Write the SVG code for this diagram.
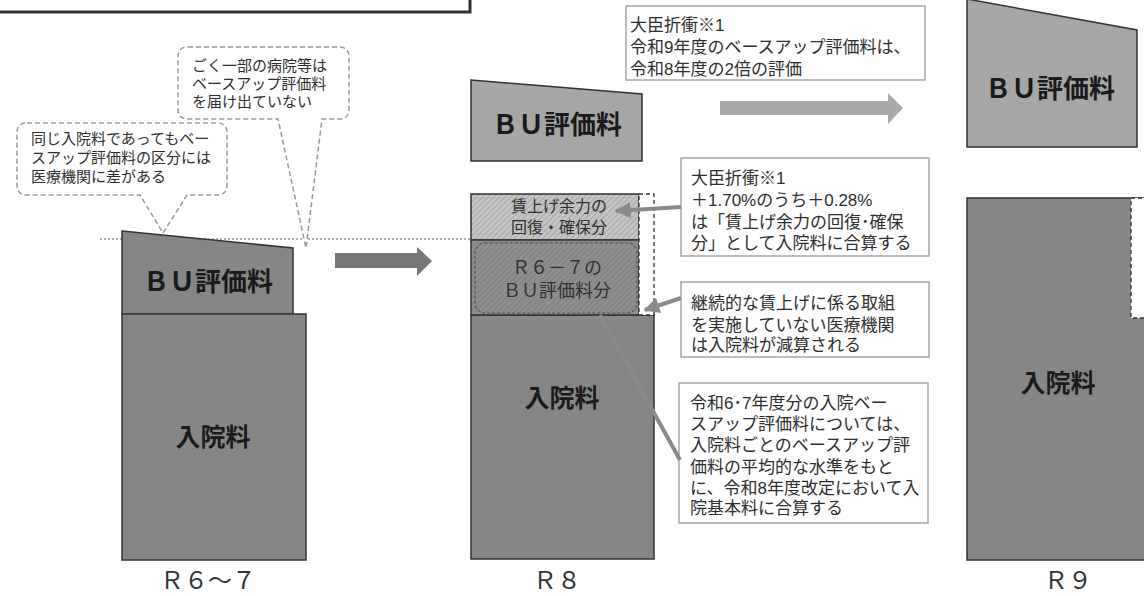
<svg xmlns="http://www.w3.org/2000/svg" width="1144" height="596" viewBox="0 0 1144 596">
<style>
.t{font-family:"Liberation Sans","Noto Sans CJK JP",sans-serif;fill:#2e2e2e}
.big{font-family:"Noto Sans CJK JP","Noto Sans",sans-serif;font-weight:bold;fill:#1a1a1a;text-anchor:middle}
.lbl{font-family:"Noto Sans CJK JP","Noto Sans",sans-serif;fill:#333;text-anchor:middle;font-size:24px}
.box{fill:#fff;stroke:#999;stroke-width:1.3}
.call{fill:#fff;stroke:#9a9a9a;stroke-width:1.5;stroke-dasharray:5 3}
.dark{fill:#868686;stroke:#333;stroke-width:1.5}
.light{fill:#a6a6a6;stroke:#333;stroke-width:1.5}
.conn{stroke:#8a8a8a;stroke-width:4;fill:none}
</style>
<defs>
<pattern id="hatchL" width="4" height="4" patternUnits="userSpaceOnUse" patternTransform="rotate(45)">
<rect width="4" height="4" fill="#c4c4c4"/><line x1="0" y1="0" x2="0" y2="4" stroke="#9a9a9a" stroke-width="1.4"/>
</pattern>
<pattern id="hatchD" width="4" height="4" patternUnits="userSpaceOnUse" patternTransform="rotate(45)">
<rect width="4" height="4" fill="#8e8e8e"/><line x1="0" y1="0" x2="0" y2="4" stroke="#7c7c7c" stroke-width="1.4"/>
</pattern>
<marker id="ah" viewBox="0 0 10 10" refX="9" refY="5" markerWidth="4" markerHeight="4" orient="auto" markerUnits="strokeWidth">
<path d="M0,0 L10,5 L0,10 Z" fill="#8a8a8a"/>
</marker>
</defs>
<rect width="1144" height="596" fill="#fff"/>

<g id="topbox"><rect x="-5" y="-20" width="475" height="32" fill="#fff" stroke="#333" stroke-width="3"/></g>

<g id="guide"><line x1="100" y1="239" x2="471" y2="239" stroke="#999" stroke-width="1.5" stroke-dasharray="2 2"/></g>

<g id="callout1">
<path class="call" d="M27 123 H217 Q227 123 227 133 V185 Q227 195 217 195 H187 L163 233 L140 195 H27 Q17 195 17 185 V133 Q17 123 27 123 Z"/>
<text class="t" font-size="15" x="31" y="144">同じ入院料であってもベー</text>
<text class="t" font-size="15" x="31" y="163">スアップ評価料の区分には</text>
<text class="t" font-size="15" x="31" y="182">医療機関に差がある</text>
</g>

<g id="callout2">
<path class="call" d="M188 47 H339 Q349 47 349 57 V109 Q349 119 339 119 H322 L306 248 L278 119 H188 Q178 119 178 109 V57 Q178 47 188 47 Z"/>
<text class="t" font-size="15" x="192" y="71">ごく一部の病院等は</text>
<text class="t" font-size="15" x="192" y="89">ベースアップ評価料</text>
<text class="t" font-size="15" x="192" y="107">を届け出ていない</text>
</g>

<g id="r67">
<polygon class="dark" points="122,231 293,248 293,314 122,314"/>
<text class="big" font-size="26" x="208" y="291">ＢＵ評価料</text>
<rect class="dark" x="122" y="314" width="184" height="246"/>
<text class="big" font-size="25" x="213" y="446">入院料</text>
<text class="lbl" x="208" y="589">Ｒ６～７</text>
</g>

<g id="arrow1"><polygon points="335,253 417,253 417,247 432,261 417,276 417,268 335,268" fill="#777"/></g>

<g id="r8">
<polygon class="light" points="471,80 642,94 642,161 471,161"/>
<text class="big" font-size="26" x="557" y="134">ＢＵ評価料</text>
<path class="dark" d="M471 315 H654 V559 H471 Z"/>
<rect x="471" y="194" width="168" height="46" fill="url(#hatchL)" stroke="#333" stroke-width="1.5"/>
<rect x="471" y="240" width="168" height="75" fill="url(#hatchD)" stroke="#333" stroke-width="1.5"/>
<rect x="639" y="194" width="15" height="121" fill="#fff" stroke="#333" stroke-width="1.3" stroke-dasharray="4 3"/>
<rect x="475" y="243" width="162" height="70" rx="10" fill="none" stroke="#555" stroke-width="1.2" stroke-dasharray="3 2"/>
<text class="t" font-size="16" text-anchor="middle" x="559" y="212">賃上げ余力の</text>
<text class="t" font-size="16" text-anchor="middle" x="559" y="233">回復・確保分</text>
<text class="t" font-size="18" text-anchor="middle" x="557" y="274">Ｒ６－７の</text>
<text class="t" font-size="18" text-anchor="middle" x="557" y="297">ＢＵ評価料分</text>
<text class="big" font-size="25" x="562" y="407">入院料</text>
<text class="lbl" x="557" y="589">Ｒ８</text>
</g>

<g id="arrow2"><polygon points="720,101 888,101 888,93 903,108 888,124 888,115 720,115" fill="#a9a9a9"/></g>

<g id="note1">
<rect class="box" x="626" y="6" width="299" height="74"/>
<text class="t" font-size="17" x="630" y="31">大臣折衝※1</text>
<text class="t" font-size="17" x="630" y="53">令和9年度のベースアップ評価料は、</text>
<text class="t" font-size="17" x="630" y="75">令和8年度の2倍の評価</text>
</g>

<g id="note2">
<rect class="box" x="681" y="158" width="248" height="98"/>
<text class="t" font-size="17" x="691" y="184">大臣折衝※1</text>
<text class="t" font-size="17" x="691" y="206">＋1.70%のうち＋0.28%</text>
<text class="t" font-size="17" x="691" y="228">は「賃上げ余力の回復･確保</text>
<text class="t" font-size="17" x="691" y="249">分」として入院料に合算する</text>
</g>

<g id="note3">
<rect class="box" x="681" y="282" width="248" height="75"/>
<text class="t" font-size="17" x="691" y="309">継続的な賃上げに係る取組</text>
<text class="t" font-size="17" x="691" y="331">を実施していない医療機関</text>
<text class="t" font-size="17" x="691" y="351">は入院料が減算される</text>
</g>

<g id="note4">
<rect class="box" x="679" y="383" width="249" height="140"/>
<text class="t" font-size="17" x="690" y="409">令和6･7年度分の入院ベー</text>
<text class="t" font-size="17" x="690" y="430">スアップ評価料については、</text>
<text class="t" font-size="17" x="690" y="451">入院料ごとのベースアップ評</text>
<text class="t" font-size="17" x="690" y="473">価料の平均的な水準をもと</text>
<text class="t" font-size="17" x="690" y="494">に、令和8年度改定において入</text>
<text class="t" font-size="17" x="690" y="514">院基本料に合算する</text>
</g>

<g id="r9">
<polygon class="light" points="967,-1 1137,30 1137,147 967,147"/>
<text class="big" font-size="26" x="1050" y="98">ＢＵ評価料</text>
<rect class="dark" x="967" y="198" width="190" height="362"/>
<rect x="1131" y="198" width="20" height="120" fill="#fff" stroke="#333" stroke-width="1.3" stroke-dasharray="4 3"/>
<text class="big" font-size="25" x="1058" y="392">入院料</text>
<text class="lbl" x="1068" y="589">Ｒ９</text>
</g>

<g id="connectors">
<line class="conn" x1="681" y1="207" x2="616" y2="211" marker-end="url(#ah)"/>
<line class="conn" x1="681" y1="298" x2="645" y2="310" marker-end="url(#ah)"/>
<line class="conn" x1="600" y1="315" x2="680" y2="460"/>
</g>
</svg>
